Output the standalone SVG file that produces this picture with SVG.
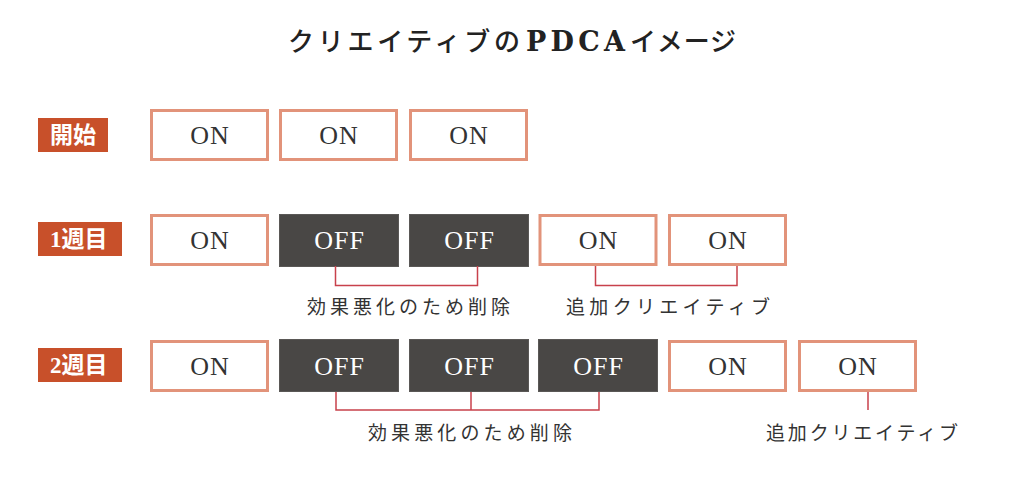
<svg xmlns="http://www.w3.org/2000/svg" width="1024" height="486" viewBox="0 0 1024 486">
<style>
.on{fill:#ffffff;stroke:#E2937A;stroke-width:3}
.off{fill:#494745;stroke:#5a5856;stroke-width:1}
.badge{fill:#C8502A}
.bt{font-family:"Liberation Serif","Noto Sans CJK JP",serif;font-weight:bold;font-size:23px;fill:#ffffff}
.tx{font-family:"Liberation Serif",serif;font-size:26px;text-anchor:middle;letter-spacing:1px}
.ton{fill:#333333}
.toff{fill:#ffffff}
.lbl{font-family:"Noto Sans CJK JP",sans-serif;font-size:19px;fill:#333333}
.title{font-family:"Noto Sans CJK JP",sans-serif;font-size:26px;font-weight:500;fill:#222222}
.tlat{font-family:"DejaVu Serif",serif;font-size:27px;font-weight:bold;fill:#222222}
.con{fill:none;stroke:#C8414B;stroke-width:1.5}
</style>
<rect width="1024" height="486" fill="#ffffff"/>
<g id="title">
<text class="title" x="288" y="51" textLength="232" lengthAdjust="spacing">クリエイティブの</text>
<text class="tlat" x="526" y="51" textLength="99" lengthAdjust="spacing">PDCA</text>
<text class="title" x="630" y="51" textLength="106" lengthAdjust="spacing">イメージ</text>
</g>

<g id="badge-start"><rect class="badge" x="38" y="118" width="70" height="34"/><text class="bt" x="50" y="143">開始</text></g>
<g id="badge-week1"><rect class="badge" x="38" y="222" width="84" height="34"/><text class="bt" x="50" y="247">1週目</text></g>
<g id="badge-week2"><rect class="badge" x="38" y="348" width="84" height="34"/><text class="bt" x="50" y="373">2週目</text></g>

<g id="r1-1"><rect class="on" x="151.5" y="110.5" width="116" height="49"/><text class="tx ton" x="210" y="144">ON</text></g>
<g id="r1-2"><rect class="on" x="280.5" y="110.5" width="116" height="49"/><text class="tx ton" x="339" y="144">ON</text></g>
<g id="r1-3"><rect class="on" x="410.5" y="110.5" width="116" height="49"/><text class="tx ton" x="469" y="144">ON</text></g>

<g id="r2-1"><rect class="on" x="151.5" y="215.5" width="116" height="49"/><text class="tx ton" x="210" y="249">ON</text></g>
<g id="r2-2"><rect class="off" x="279.5" y="214.5" width="119" height="52"/><text class="tx toff" x="339.5" y="249">OFF</text></g>
<g id="r2-3"><rect class="off" x="409.5" y="214.5" width="119" height="52"/><text class="tx toff" x="469.5" y="249">OFF</text></g>
<g id="r2-4"><rect class="on" x="540" y="215.5" width="116" height="49"/><text class="tx ton" x="598.5" y="249">ON</text></g>
<g id="r2-5"><rect class="on" x="669.5" y="215.5" width="116" height="49"/><text class="tx ton" x="728" y="249">ON</text></g>

<g id="r3-1"><rect class="on" x="151.5" y="341.5" width="116" height="49"/><text class="tx ton" x="210" y="375">ON</text></g>
<g id="r3-2"><rect class="off" x="279.5" y="339.5" width="119" height="52"/><text class="tx toff" x="339.5" y="375">OFF</text></g>
<g id="r3-3"><rect class="off" x="409.5" y="339.5" width="119" height="52"/><text class="tx toff" x="469.5" y="375">OFF</text></g>
<g id="r3-4"><rect class="off" x="538.5" y="339.5" width="119" height="52"/><text class="tx toff" x="598.5" y="375">OFF</text></g>
<g id="r3-5"><rect class="on" x="669.5" y="341.5" width="116" height="49"/><text class="tx ton" x="728" y="375">ON</text></g>
<g id="r3-6"><rect class="on" x="799.5" y="341.5" width="116" height="49"/><text class="tx ton" x="858" y="375">ON</text></g>

<g id="connectors">
<polyline class="con" points="335.5,266 335.5,285.5 477.5,285.5 477.5,266"/>
<polyline class="con" points="595.5,266 595.5,285.5 737,285.5 737,266"/>
<polyline class="con" points="336,392 336,410 599,410 599,392"/>
<line class="con" x1="471" y1="392" x2="471" y2="410"/>
<line class="con" x1="868" y1="392" x2="868" y2="410"/>
</g>

<g id="labels">
<text class="lbl" x="307" y="314" textLength="203" lengthAdjust="spacing">効果悪化のため削除</text>
<text class="lbl" x="566" y="314" textLength="204" lengthAdjust="spacing">追加クリエイティブ</text>
<text class="lbl" x="368" y="440" textLength="204" lengthAdjust="spacing">効果悪化のため削除</text>
<text class="lbl" x="766" y="440" textLength="192" lengthAdjust="spacing">追加クリエイティブ</text>
</g>
</svg>
